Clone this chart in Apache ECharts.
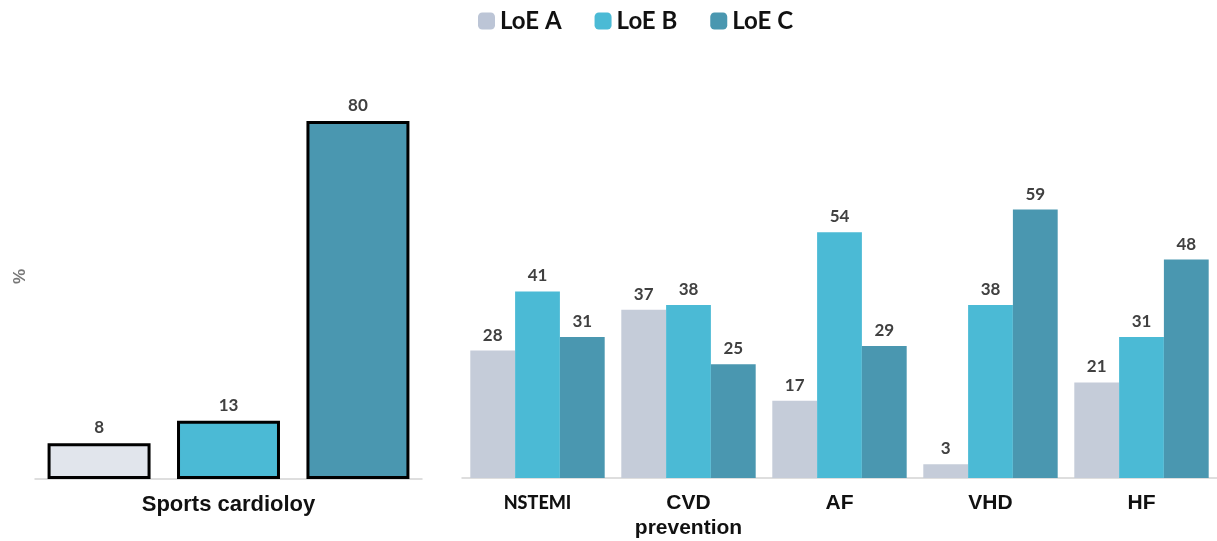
<!DOCTYPE html>
<html>
<head>
<meta charset="utf-8">
<script src="https://cdn.jsdelivr.net/npm/echarts@6/dist/echarts.min.js"></script>
<style>html,body{margin:0;padding:0;background:#fff}#c{width:1217px;height:541px}</style>
</head>
<body>
<div id="c"></div>
<script>
const seriesNames = ['LoE A', 'LoE B', 'LoE C'];
const leftCategories = ['Sports cardioloy'];
const sportsA = [8];
const sportsB = [13];
const sportsC = [80];
const rightCategories = ['NSTEMI', 'CVD\nprevention', 'AF', 'VHD', 'HF'];
const loeA = [28, 37, 17, 3, 21];
const loeB = [41, 38, 54, 38, 31];
const loeC = [31, 25, 29, 59, 48];

const colA = '#c5ccd9', colALeft = '#e1e5ec', colB = '#4bbad5', colC = '#4a97b0';
const chart = echarts.init(document.getElementById('c'));
const lbl = { show: true, position: 'top', distance: 7, color: '#404040', fontFamily: 'Lato', fontWeight: 'bold', fontSize: 17 };
const axisLbl = { color: '#111', fontFamily: 'Liberation Sans', fontWeight: 'bold', fontSize: 21, margin: 13, lineHeight: 25, interval: 0 };

function leftSeries(name, data, color) {
  return { name, type: 'bar', xAxisIndex: 0, yAxisIndex: 0, data, barGap: '25.7%', barCategoryGap: '6.5%',
    itemStyle: { color, borderColor: '#000', borderWidth: 3 }, label: lbl };
}
function rightSeries(name, data, color) {
  return { name, type: 'bar', xAxisIndex: 1, yAxisIndex: 1, data, barGap: '0%', barCategoryGap: '11%',
    itemStyle: { color }, label: lbl };
}

chart.setOption({
  animation: false,
  legend: {
    top: 4, left: 473, itemWidth: 17, itemHeight: 17, itemGap: 33,
    textStyle: { fontFamily: 'Lato', fontWeight: 'bold', fontSize: 24, color: '#111' },
    data: [
      { name: 'LoE A', itemStyle: { color: '#bcc5d6', borderWidth: 0 } },
      { name: 'LoE B', itemStyle: { color: colB, borderWidth: 0 } },
      { name: 'LoE C', itemStyle: { color: colC, borderWidth: 0 } }
    ]
  },
  graphic: [{
    type: 'text', x: 12, y: 284, rotation: Math.PI / 2,
    style: { text: '%', fill: '#777', font: 'bold 17px "Liberation Sans"' }
  }],
  grid: [
    { left: 35, width: 387, top: 31.5, bottom: 62 },
    { left: 462, width: 760, top: 23, bottom: 62 }
  ],
  xAxis: [
    { type: 'category', gridIndex: 0, data: leftCategories, axisTick: { show: false },
      axisLine: { lineStyle: { color: '#d4d4d4', width: 1.5 } },
      axisLabel: Object.assign({}, axisLbl, { fontSize: 22 }) },
    { type: 'category', gridIndex: 1, data: rightCategories, axisTick: { show: false },
      axisLine: { lineStyle: { color: '#d4d4d4', width: 1.5 } },
      axisLabel: Object.assign({}, axisLbl, {
        formatter: v => v === 'NSTEMI' ? '{n|NSTEMI}' : v,
        rich: { n: { fontFamily: 'Lato', fontWeight: 900, fontSize: 18, color: '#111' } }
      }) }
  ],
  yAxis: [
    { type: 'value', gridIndex: 0, min: 0, max: 100, show: false, splitLine: { show: false } },
    { type: 'value', gridIndex: 1, min: 0, max: 100, show: false, splitLine: { show: false } }
  ],
  series: [
    leftSeries(seriesNames[0], sportsA, colALeft),
    leftSeries(seriesNames[1], sportsB, colB),
    leftSeries(seriesNames[2], sportsC, colC),
    rightSeries(seriesNames[0], loeA, colA),
    rightSeries(seriesNames[1], loeB, colB),
    rightSeries(seriesNames[2], loeC, colC)
  ]
});
</script>
</body>
</html>
